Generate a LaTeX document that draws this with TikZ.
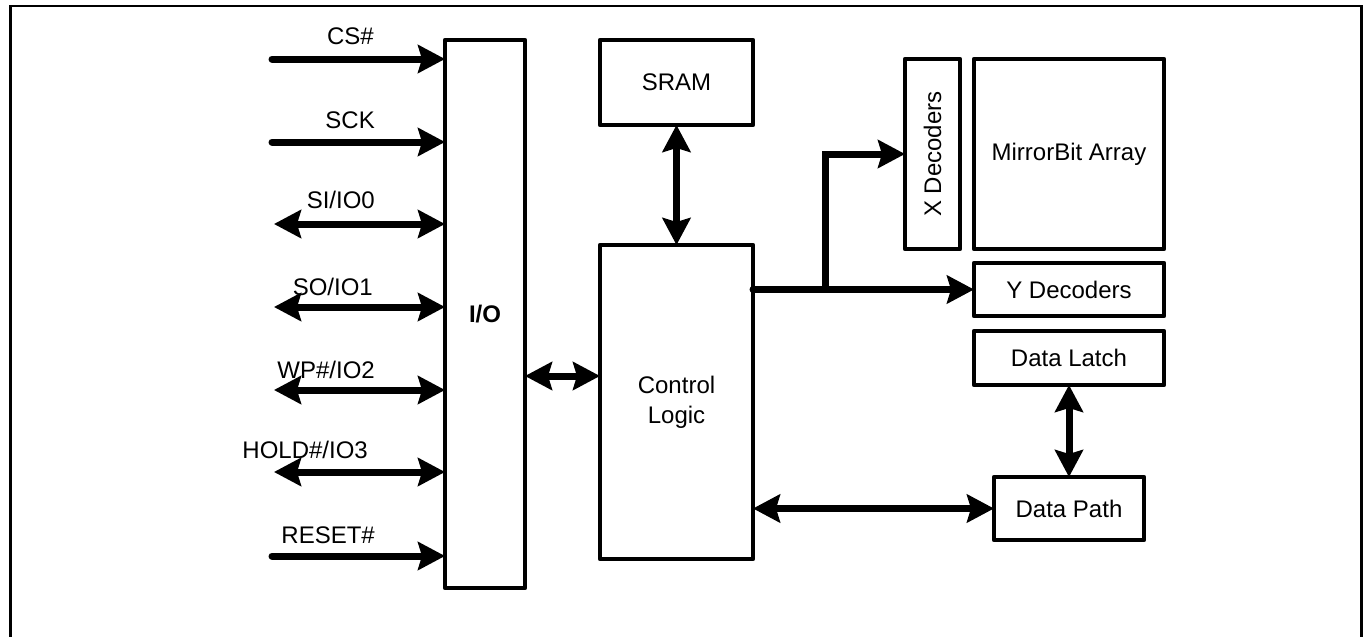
\documentclass[tikz,border=0pt]{standalone}
\usepackage{fontspec}
\setmainfont{Liberation Sans}
\usetikzlibrary{arrows.meta}
\tikzset{mytip/.tip={Stealth[length=27pt,width=28pt,inset=4pt]}}
\begin{document}
\begin{tikzpicture}[x=1pt,y=-1pt,
  txt/.style={font=\fontsize{24}{29}\selectfont},
  box/.style={draw, line width=4.3pt, rectangle, inner sep=0pt, outer sep=0pt, align=center, txt, line join=round},
  sig/.style={line width=7pt, line cap=round},
  one/.style={sig, -{mytip}},
  two/.style={sig, {mytip}-{mytip}},
  lbl/.style={anchor=base east, inner sep=0pt, txt}]
\useasboundingbox (0,0) rectangle (1369,637);
% outer frame
\draw[line width=2.5pt] (10.5,660) -- (10.5,6) -- (1361.5,6) -- (1361.5,660);

% boxes
\node[box, minimum width=80pt, minimum height=548pt, font=\fontsize{24}{29}\selectfont\bfseries] (io) at (485,314) {I/O};
\node[box, minimum width=153pt, minimum height=85pt] (sram) at (676.5,82.5) {SRAM};
\node[box, minimum width=153pt, minimum height=314pt] (ctrl) at (676.5,402) {Control\\[1pt]Logic};
\node[box, minimum width=55pt, minimum height=190pt] (xdec) at (932.5,154) {};
\node[rotate=90, txt] (xdeclbl) at (xdec.center) {X Decoders};
\node[box, minimum width=190pt, minimum height=190pt] (mba) at (1069,154) {MirrorBit Array};
\node[box, minimum width=190pt, minimum height=53pt] (ydec) at (1069,289.5) {Y Decoders};
\node[box, minimum width=190pt, minimum height=54pt] (dl) at (1069,358) {Data Latch};
\node[box, minimum width=150pt, minimum height=63pt] (dp) at (1069,508.5) {Data Path};

% signal start points
\coordinate (cs) at (272,59);
\coordinate (sck) at (272,142);
\coordinate (si) at (274,224);
\coordinate (so) at (274,307);
\coordinate (wp) at (274,390);
\coordinate (hold) at (274,472);
\coordinate (rst) at (272,556);

\draw[one] (cs) -- (io.west |- cs);
\draw[one] (sck) -- (io.west |- sck);
\draw[two] (si) -- (io.west |- si);
\draw[two] (so) -- (io.west |- so);
\draw[two] (wp) -- (io.west |- wp);
\draw[two] (hold) -- (io.west |- hold);
\draw[one] (rst) -- (io.west |- rst);

% labels
\node[lbl] (lcs) at (374,45) {CS\#};
\node[lbl] (lsck) at (375,128) {SCK};
\node[lbl] (lsi) at (375,208) {SI/IO0};
\node[lbl] (lso) at (373,295) {SO/IO1};
\node[lbl] (lwp) at (375,378) {WP\#/IO2};
\node[lbl] (lhold) at (368,458) {HOLD\#/IO3};
\node[lbl] (lrst) at (375,543) {RESET\#};

% internal connections
\coordinate (ioc) at (560,376);
\draw[two] (io.east |- ioc) -- (ctrl.west |- ioc);
\draw[two] (sram.south) -- (ctrl.north);
\coordinate (br) at (825,289.5);
\draw[sig] (ctrl.east |- ydec.west) -- (br);
\draw[one] (br) -- (ydec.west);
\draw[one, line cap=butt] (br) |- (xdec.west);
\draw[two] (dl.south) -- (dp.north);
\draw[two] (ctrl.east |- dp.west) -- (dp.west);
\end{tikzpicture}
\end{document}
